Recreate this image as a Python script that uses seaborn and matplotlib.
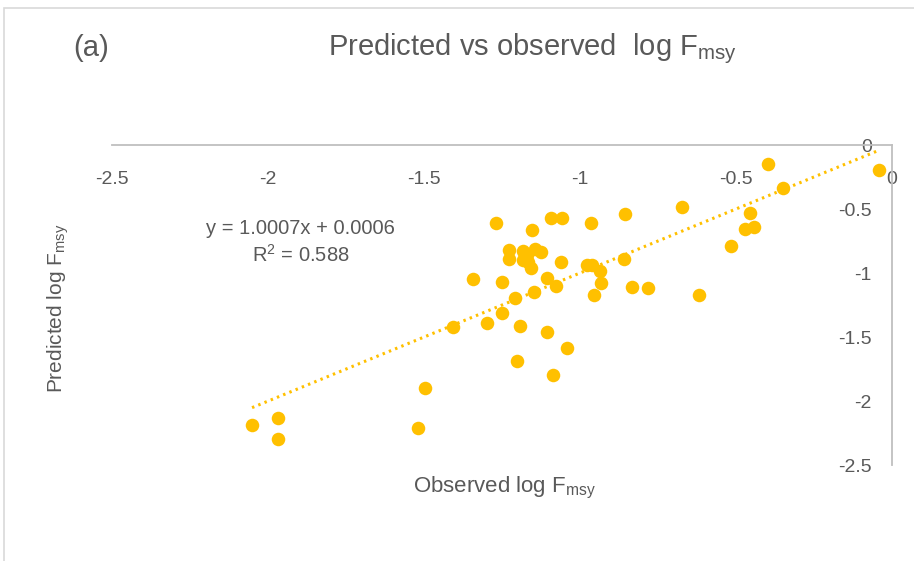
import numpy as np
import pandas as pd
import matplotlib
matplotlib.use("Agg")
import matplotlib.pyplot as plt
import matplotlib.patches as patches
import seaborn as sns

# observed vs predicted log Fmsy
observed = [-2.051, -1.969, -1.969, -1.518, -1.498, -1.407, -1.344,
            -1.270, -1.153, -1.094, -1.058, -0.964, -0.855, -0.673,
            -1.228, -1.228, -1.182, -1.182, -1.144, -1.125, -1.165,
            -1.157, -1.171, -1.062, -0.978, -0.962, -0.936, -0.933,
            -0.859, -1.251, -1.105, -1.077, -1.147, -1.208, -0.956,
            -0.834, -0.783, -0.619, -1.251, -1.298, -1.192, -1.106,
            -1.043, -1.203, -1.085,
            -0.398, -0.042, -0.348, -0.455, -0.441, -0.471, -0.516]
predicted = [-2.19, -2.13, -2.30, -2.21, -1.90, -1.42, -1.05,
             -0.607, -0.664, -0.567, -0.567, -0.607, -0.539, -0.482,
             -0.82, -0.893, -0.826, -0.898, -0.81, -0.838, -0.911,
             -0.963, -0.859, -0.914, -0.9375, -0.9375, -0.982, -1.08,
             -0.893, -1.068, -1.037, -1.099, -1.146, -1.193, -1.172,
             -1.107, -1.115, -1.172, -1.315, -1.393, -1.412, -1.461,
             -1.586, -1.69, -1.797,
             -0.148, -0.195, -0.338, -0.529, -0.638, -0.656, -0.787]

slope = 1.0007
intercept = 0.0006
r_squared = 0.588
axis_ticks = [-2.5, -2, -1.5, -1, -0.5, 0]

gold = "#FFC000"
grey_text = "#595959"

sns.set_theme(style="white")
plt.rcParams['font.family'] = ['Liberation Sans', 'DejaVu Sans']
plt.rcParams['mathtext.default'] = 'regular'

df = pd.DataFrame({'observed': observed, 'predicted': predicted})

fig = plt.figure(figsize=(9.14, 5.61), dpi=100)
ax = fig.add_axes([0.1225, 0.1711, 0.8534, 0.5704])

sns.scatterplot(data=df, x='observed', y='predicted', ax=ax, color=gold,
                s=95, linewidth=0, zorder=3)

# linear trendline across the observed range
xs = np.array([df['observed'].min(), df['observed'].max()])
ax.plot(xs, slope * xs + intercept, color=gold, lw=2.2,
        linestyle=(0, (0.8, 1.4)), zorder=2)

ax.set_xlim(-2.5, 0)
ax.set_ylim(-2.5, 0)
ax.set_xticks(axis_ticks)
ax.set_yticks(axis_ticks)
ax.set_xticklabels([f"{t:g}" for t in axis_ticks])
ax.set_yticklabels([f"{t:g}" for t in axis_ticks])

# axes cross at the origin: top and right spines only
for side in ['left', 'bottom']:
    ax.spines[side].set_visible(False)
for side in ['top', 'right']:
    ax.spines[side].set_color('#BFBFBF')
    ax.spines[side].set_linewidth(1.3)

ax.tick_params(axis='x', bottom=False, labelbottom=False, top=True,
               labeltop=True, length=0, pad=-31, labelsize=14,
               labelcolor=grey_text)
ax.tick_params(axis='y', left=False, labelleft=False, right=True,
               labelright=True, length=0, pad=-14.5, labelsize=14,
               labelcolor=grey_text)
for lab in ax.get_yticklabels():
    lab.set_horizontalalignment('right')

ax.set_xlabel('')
ax.set_ylabel('')

ax.text(-1.896, -0.656, f"y = {slope}x + {intercept}", ha='center',
        va='center', fontsize=14.5, color=grey_text)
ax.text(-1.896, -0.86, f"R$^2$ = {r_squared}", ha='center', va='center',
        fontsize=14.5, color=grey_text)

fig.text(0.552, 0.13, "Observed log F$_{msy}$", ha='center', va='center',
         fontsize=16, color=grey_text)
fig.text(0.064, 0.45, "Predicted log F$_{msy}$", ha='center', va='center',
         rotation=90, fontsize=15, color=grey_text)
fig.text(0.582, 0.914, "Predicted vs observed  log F$_{msy}$", ha='center',
         va='center', fontsize=21, color=grey_text)
fig.text(0.10, 0.914, "(a)", ha='center', va='center', fontsize=21,
         color=grey_text)

# chart frame like the spreadsheet chart area
fig.patches.append(patches.Rectangle((0.0045, -0.1), 1.2, 1.1 - 8 / 561,
                                     transform=fig.transFigure, fill=False,
                                     edgecolor='#D9D9D9', lw=1.2))

fig.savefig('out.png', dpi=100)
